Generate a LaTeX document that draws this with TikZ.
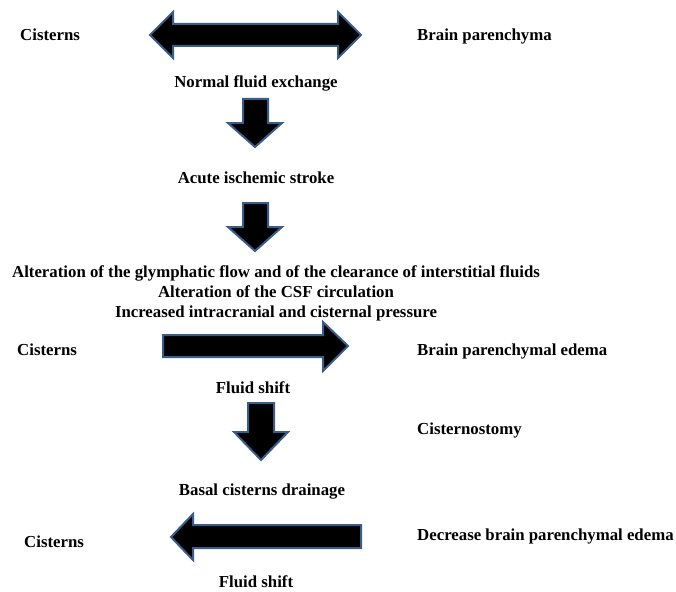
\documentclass[tikz,border=0pt]{standalone}
\usepackage{fontspec}
\setmainfont{Liberation Serif}
\usepackage{tikz}
\usetikzlibrary{positioning}
\definecolor{aedge}{RGB}{56, 93, 138}
\tikzset{blockarrow/.style = {fill=black, draw=aedge, line width=2pt, line join=miter},
         lbl/.style = {font=\fontsize{16.8}{20}\selectfont\bfseries, inner sep=0pt,
                       text height=14pt, text depth=2pt}}

\begin{document}
\begin{tikzpicture}[x=1pt, y=-1pt]
      \useasboundingbox (0, 0) rectangle (676, 591);

      % top row
      \node [lbl, anchor=west] (cis1) at (20, 35) {Cisterns};
      \node [lbl, anchor=west] (par1) at (417, 35) {Brain parenchyma};
      \draw [blockarrow] (150, 35) -- (173, 12) -- (173, 24) -- (338, 24) -- (338, 12) -- (361, 35)
            -- (338, 58) -- (338, 46) -- (173, 46) -- (173, 58) -- cycle;
      \node [lbl] (normal) at (256, 82) {Normal fluid exchange};

      \draw [blockarrow] (243, 99) -- (268, 99) -- (268, 123) -- (282, 123) -- (255, 147)
            -- (228, 123) -- (243, 123) -- cycle;
      \node [lbl] (stroke) at (256, 177) {Acute ischemic stroke};

      \draw [blockarrow] (243, 203) -- (268, 203) -- (268, 227) -- (282, 227) -- (255, 251)
            -- (228, 227) -- (243, 227) -- cycle;
      \node [lbl] (alt1) at (276, 271) {Alteration of the glymphatic flow and of the clearance of interstitial fluids};
      \node [lbl, below=4pt of alt1] (alt2) {Alteration of the CSF circulation};
      \node [lbl, below=4pt of alt2] (alt3) {Increased intracranial and cisternal pressure};

      % fluid shift to parenchyma
      \node [lbl, anchor=west] (cis2) at (17, 349) {Cisterns};
      \node [lbl, anchor=west] (par2) at (417, 349) {Brain parenchymal edema};
      \draw [blockarrow] (163, 335) -- (323, 335) -- (323, 322) -- (348, 346) -- (323, 371)
            -- (323, 357) -- (163, 357) -- cycle;
      \node [lbl] (shift1) at (253, 387) {Fluid shift};

      \draw [blockarrow] (248, 403) -- (274, 403) -- (274, 432) -- (288, 432) -- (261, 460)
            -- (234, 432) -- (248, 432) -- cycle;
      \node [lbl, anchor=west] (cisto) at (417, 428) {Cisternostomy};
      \node [lbl] (drain) at (262, 489) {Basal cisterns drainage};

      % fluid shift back to cisterns
      \node [lbl, anchor=west] (cis3) at (24, 541) {Cisterns};
      \node [lbl, anchor=west] (par3) at (417, 534) {Decrease brain parenchymal edema};
      \draw [blockarrow] (171, 537) -- (193, 514) -- (193, 525) -- (361, 525) -- (361, 548)
            -- (193, 548) -- (193, 560) -- cycle;
      \node [lbl] (shift2) at (256, 581) {Fluid shift};
    \end{tikzpicture}
\end{document}
